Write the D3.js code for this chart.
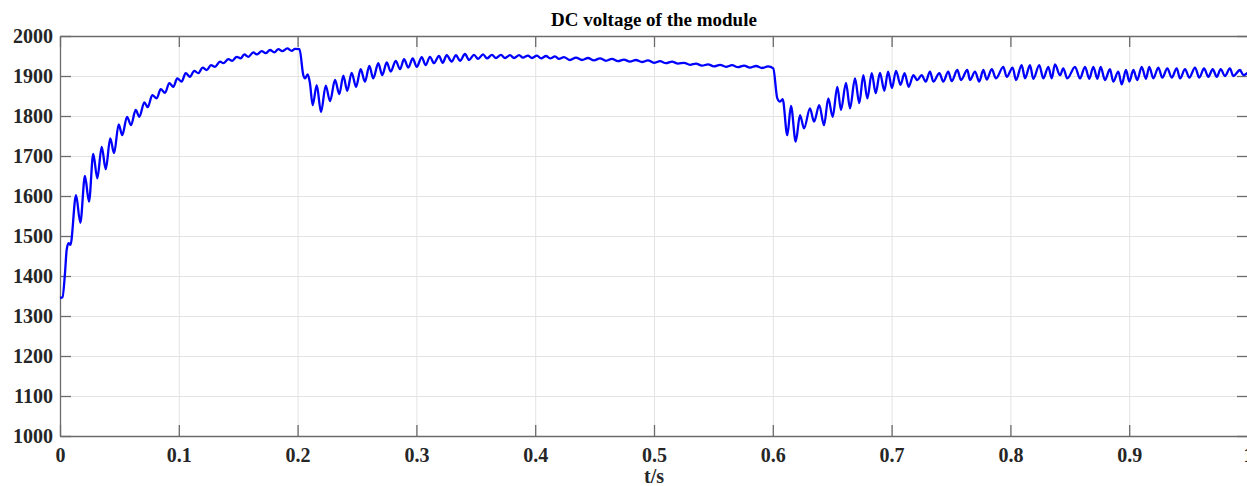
<!DOCTYPE html>
<html>
<head>
<meta charset="utf-8">
<script src="https://cdn.jsdelivr.net/npm/d3@7"></script>
<style>
  html, body { margin: 0; padding: 0; background: #fff; overflow: hidden; }
  svg { display: block; }
</style>
</head>
<body>
<div id="chart"></div>
<script>
// time (s) of each read-off point
var timeS = [
  0, 0.0021, 0.0042, 0.0056, 0.0072, 0.0088, 0.0135, 0.0171, 0.0210, 0.0244,
  0.0280, 0.0314, 0.0351, 0.0385, 0.0423, 0.0455, 0.0494, 0.0524, 0.0564, 0.0598,
  0.0637, 0.0668, 0.0710, 0.0738, 0.0777, 0.0814, 0.0848, 0.0884, 0.0920, 0.0954,
  0.0987, 0.1024, 0.1058, 0.1094, 0.1130, 0.1164, 0.1201, 0.1235, 0.1271, 0.1305,
  0.1347, 0.1375, 0.1417, 0.1450, 0.1487, 0.1521, 0.1551, 0.1585, 0.1627, 0.1656,
  0.1698, 0.1731, 0.1768, 0.1804, 0.1838, 0.1871, 0.1913, 0.1950, 0.1978, 0.2016,
  // step at 0.2 s
  0.2048, 0.2062, 0.2085, 0.2104, 0.2127, 0.2161, 0.2197, 0.2237, 0.2273, 0.2315,
  0.2351, 0.2385, 0.2418, 0.2455, 0.2492, 0.2531, 0.2567, 0.2604, 0.2637, 0.2679,
  0.2713, 0.2750, 0.2784, 0.2826, 0.2862, 0.2896, 0.2932, 0.2969, 0.3003, 0.3045,
  0.3078, 0.3114, 0.3148, 0.3190, 0.3221, 0.3255, 0.3297, 0.3333, 0.3367, 0.3409,
  0.3443, 0.3485, 0.3519, 0.3561, 0.3594, 0.3636, 0.3670, 0.3712, 0.3746, 0.3788,
  0.3822, 0.3864, 0.3897, 0.3939, 0.3973, 0.4015, 0.4049, 0.4091, 0.4125, 0.4167,
  0.4200, 0.4242, 0.4293, 0.4343, 0.4394, 0.4444, 0.4495, 0.4545, 0.4596, 0.4646,
  0.4697, 0.4747, 0.4798, 0.4848, 0.4899, 0.4949, 0.5000, 0.5051, 0.5101, 0.5152,
  0.5202, 0.5253, 0.5303, 0.5354, 0.5404, 0.5455, 0.5505, 0.5556, 0.5606, 0.5657,
  0.5707, 0.5758, 0.5808, 0.5859, 0.5909, 0.5960, 0.6004,
  // step at 0.6 s
  0.6038, 0.6061, 0.6083, 0.6122, 0.6153, 0.6193, 0.6229, 0.6263, 0.6313, 0.6347,
  0.6391, 0.6431, 0.6467, 0.6504, 0.6543, 0.6574, 0.6616, 0.6650, 0.6692, 0.6728,
  0.6762, 0.6796, 0.6833, 0.6866, 0.6902, 0.6939, 0.6970, 0.7003, 0.7037, 0.7075,
  0.7109, 0.7144, 0.7183, 0.7216, 0.7253, 0.7287, 0.7323, 0.7351, 0.7402, 0.7435,
  0.7477, 0.7506, 0.7553, 0.7584, 0.7637, 0.7660, 0.7702, 0.7738, 0.7772, 0.7801,
  0.7843, 0.7879, 0.7940, 0.7969, 0.8019, 0.8047, 0.8095, 0.8123, 0.8165, 0.8193,
  0.8243, 0.8277, 0.8319, 0.8348, 0.8375, 0.8418, 0.8445, 0.8479, 0.8544, 0.8586,
  0.8628, 0.8664, 0.8698, 0.8732, 0.8760, 0.8796, 0.8838, 0.8866, 0.8908, 0.8937,
  0.8973, 0.9001, 0.9035, 0.9068, 0.9105, 0.9141, 0.9169, 0.9203, 0.9245, 0.9279,
  0.9321, 0.9358, 0.9400, 0.9428, 0.9470, 0.9506, 0.9554, 0.9590, 0.9630, 0.9666,
  0.9703, 0.9737, 0.9770, 0.9806, 0.9848, 0.9876, 0.9933, 0.9961, 1.0
];

// DC voltage (V) at those times
var voltage = [
  1345, 1347, 1407, 1465, 1482, 1478, 1602, 1533, 1650, 1586,
  1705, 1644, 1723, 1667, 1744, 1707, 1779, 1752, 1798, 1777,
  1815, 1798, 1834, 1822, 1852, 1844, 1867, 1858, 1882, 1873,
  1894, 1886, 1907, 1898, 1913, 1907, 1921, 1915, 1927, 1923,
  1936, 1932, 1942, 1938, 1948, 1944, 1954, 1948, 1959, 1954,
  1962, 1957, 1965, 1959, 1967, 1962, 1969, 1963, 1968, 1967,
  1902, 1894, 1904, 1882, 1827, 1877, 1810, 1876, 1837, 1890,
  1855, 1901, 1863, 1908, 1873, 1917, 1886, 1925, 1894, 1932,
  1902, 1934, 1911, 1938, 1917, 1942, 1921, 1944, 1923, 1947,
  1927, 1948, 1932, 1950, 1933, 1952, 1936, 1952, 1938, 1955,
  1940, 1953, 1943, 1954, 1944, 1953, 1945, 1953, 1945, 1952,
  1945, 1952, 1946, 1951, 1945, 1951, 1944, 1950, 1944, 1949,
  1943, 1947, 1940, 1946, 1940, 1945, 1939, 1944, 1938, 1943,
  1937, 1941, 1936, 1940, 1935, 1939, 1933, 1937, 1932, 1936,
  1931, 1933, 1928, 1931, 1926, 1929, 1924, 1928, 1923, 1927,
  1922, 1926, 1921, 1925, 1920, 1924, 1919,
  1844, 1836, 1842, 1752, 1825, 1736, 1802, 1769, 1819, 1786,
  1827, 1777, 1844, 1798, 1873, 1815, 1883, 1819, 1894, 1832,
  1902, 1844, 1907, 1857, 1908, 1863, 1911, 1870, 1913, 1878,
  1907, 1873, 1902, 1890, 1902, 1886, 1911, 1886, 1907, 1886,
  1911, 1887, 1915, 1890, 1915, 1890, 1911, 1886, 1915, 1891,
  1917, 1894, 1923, 1898, 1921, 1890, 1927, 1894, 1927, 1893,
  1927, 1894, 1923, 1894, 1929, 1902, 1919, 1894, 1923, 1894,
  1923, 1893, 1923, 1893, 1923, 1890, 1917, 1886, 1911, 1879,
  1915, 1886, 1915, 1890, 1923, 1893, 1923, 1894, 1921, 1896,
  1919, 1896, 1919, 1894, 1917, 1896, 1921, 1896, 1919, 1898,
  1917, 1898, 1917, 1900, 1919, 1900, 1915, 1902, 1909
];

var xTicks = [0, 0.1, 0.2, 0.3, 0.4, 0.5, 0.6, 0.7, 0.8, 0.9, 1];
var yTicks = [1000, 1100, 1200, 1300, 1400, 1500, 1600, 1700, 1800, 1900, 2000];
var titleText = "DC voltage of the module";
var xLabelText = "t/s";

var serif = "'Liberation Serif', 'Times New Roman', serif";

var margin = { top: 36, left: 60 },
    width = 1188,
    height = 400;

var svg = d3.select("#chart")
  .append("svg")
  .attr("width", 1247)
  .attr("height", 486)
  .append("g")
  .attr("transform", "translate(" + margin.left + "," + margin.top + ")");

var xScale = d3.scaleLinear().domain([0, 1]).range([0, width]);
var yScale = d3.scaleLinear().domain([1000, 2000]).range([height, 0]);

// grid
svg.append("g")
  .selectAll("line")
  .data(xTicks)
  .enter().append("line")
  .attr("x1", d => xScale(d) + 0.5).attr("x2", d => xScale(d) + 0.5)
  .attr("y1", 0).attr("y2", height)
  .attr("stroke", "#e3e3e3").attr("stroke-width", 1);

svg.append("g")
  .selectAll("line")
  .data(yTicks)
  .enter().append("line")
  .attr("x1", 0).attr("x2", width)
  .attr("y1", d => yScale(d) + 0.5).attr("y2", d => yScale(d) + 0.5)
  .attr("stroke", "#e3e3e3").attr("stroke-width", 1);

// axes (ticks pointing inward, like matlab)
var axisColor = "#6b6b6b";

var xAxis = svg.append("g")
  .attr("transform", "translate(0," + height + ")")
  .call(d3.axisBottom(xScale).tickValues(xTicks).tickSizeInner(-11).tickSizeOuter(0).tickFormat(d3.format("")));

var xAxisTop = svg.append("g")
  .call(d3.axisTop(xScale).tickValues(xTicks).tickSizeInner(-11).tickSizeOuter(0).tickFormat(""));

var yAxis = svg.append("g")
  .call(d3.axisLeft(yScale).tickValues(yTicks).tickSizeInner(-11).tickSizeOuter(0).tickFormat(d3.format("d")));

var yAxisRight = svg.append("g")
  .attr("transform", "translate(" + width + ",0)")
  .call(d3.axisRight(yScale).tickValues(yTicks).tickSizeInner(-11).tickSizeOuter(0).tickFormat(""));

[xAxis, xAxisTop, yAxis, yAxisRight].forEach(function(a) {
  a.attr("font-family", serif).attr("font-size", 20).attr("font-weight", "bold");
  a.select(".domain").attr("stroke", axisColor).attr("stroke-width", 1.3);
  a.selectAll(".tick line").attr("stroke", axisColor).attr("stroke-width", 1.3);
  a.selectAll(".tick text").attr("fill", "#262626");
});
yAxis.selectAll(".tick text").attr("x", -7).attr("dy", "0.34em");
xAxis.selectAll(".tick text").attr("y", 12).attr("dy", "0.71em");

// the voltage trace
var points = timeS.map(function(t, i) { return { t: t, v: voltage[i] }; });

var line = d3.line()
  .x(d => xScale(d.t))
  .y(d => yScale(d.v))
  .curve(d3.curveMonotoneX);

svg.append("path")
  .datum(points)
  .attr("d", line)
  .attr("fill", "none")
  .attr("stroke", "#0000ff")
  .attr("stroke-width", 2.3)
  .attr("stroke-linejoin", "round");

// title + x label
svg.append("text")
  .attr("x", width / 2)
  .attr("y", -10)
  .attr("text-anchor", "middle")
  .style("font-family", serif)
  .style("font-weight", "bold")
  .style("font-size", "19px")
  .style("fill", "#000")
  .text(titleText);

svg.append("text")
  .attr("x", width / 2)
  .attr("y", height + 47)
  .attr("text-anchor", "middle")
  .style("font-family", serif)
  .style("font-weight", "bold")
  .style("font-size", "20px")
  .style("fill", "#262626")
  .text(xLabelText);
</script>
</body>
</html>
